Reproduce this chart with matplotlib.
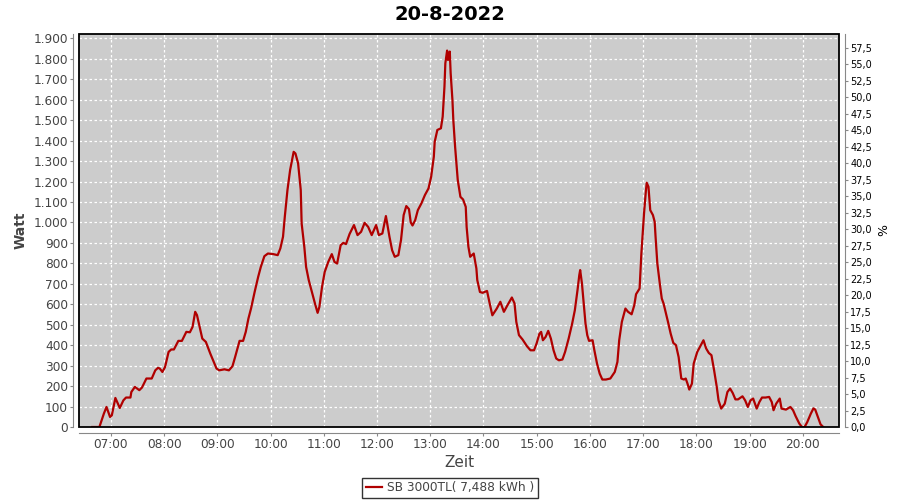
import matplotlib
matplotlib.use("Agg")
import matplotlib.pyplot as plt
from matplotlib.patches import Rectangle
from matplotlib.ticker import FuncFormatter, MultipleLocator

# readings of the day (time of day, power in W)
times = [
    "06:39", "06:47", "06:52", "06:55", "06:59", "07:01", "07:05", "07:10", "07:14", "07:17",
    "07:22", "07:23", "07:27", "07:32", "07:35", "07:40", "07:46", "07:50", "07:53", "07:55",
    "07:58", "08:01", "08:05", "08:08", "08:11", "08:16", "08:20", "08:25", "08:29", "08:32",
    "08:35", "08:37", "08:40", "08:43", "08:47", "08:52", "08:56", "08:59", "09:02", "09:08",
    "09:13", "09:17", "09:20", "09:25", "09:29", "09:32", "09:35", "09:38", "09:42", "09:46",
    "09:49", "09:53", "09:57", "10:03", "10:08", "10:11", "10:14", "10:16", "10:19", "10:22",
    "10:26", "10:28", "10:31", "10:34", "10:35", "10:38", "10:40", "10:43", "10:47", "10:50",
    "10:53", "10:55", "10:58", "11:01", "11:05", "11:09", "11:12", "11:15", "11:19", "11:22",
    "11:25", "11:29", "11:34", "11:38", "11:42", "11:46", "11:50", "11:54", "11:59", "12:02",
    "12:06", "12:10", "12:14", "12:17", "12:20", "12:24", "12:27", "12:30", "12:33", "12:36",
    "12:38", "12:40", "12:43", "12:46", "12:50", "12:54", "12:58", "13:01", "13:04", "13:05",
    "13:08", "13:12", "13:14", "13:16", "13:17", "13:19", "13:20", "13:22", "13:23", "13:25",
    "13:26", "13:28", "13:31", "13:34", "13:37", "13:40", "13:41", "13:43", "13:45", "13:49",
    "13:52", "13:53", "13:56", "13:59", "14:04", "14:07", "14:10", "14:15", "14:19", "14:23",
    "14:27", "14:32", "14:35", "14:37", "14:40", "14:44", "14:49", "14:53", "14:57", "15:00",
    "15:03", "15:05", "15:07", "15:10", "15:13", "15:16", "15:19", "15:22", "15:25", "15:29",
    "15:32", "15:36", "15:40", "15:43", "15:46", "15:48", "15:49", "15:51", "15:53", "15:55",
    "15:57", "15:59", "16:03", "16:05", "16:08", "16:11", "16:14", "16:18", "16:23", "16:28",
    "16:31", "16:33", "16:36", "16:40", "16:43", "16:47", "16:50", "16:52", "16:56", "16:58",
    "17:01", "17:03", "17:04", "17:06", "17:08", "17:11", "17:13", "17:14", "17:16", "17:19",
    "17:21", "17:23", "17:28", "17:31", "17:34", "17:37", "17:40", "17:43", "17:46", "17:48",
    "17:50", "17:52", "17:55", "17:57", "18:01", "18:08", "18:11", "18:14", "18:17", "18:20",
    "18:23", "18:25", "18:28", "18:32", "18:35", "18:38", "18:41", "18:44", "18:47", "18:52",
    "18:55", "18:58", "19:01", "19:04", "19:08", "19:11", "19:14", "19:18", "19:22", "19:25",
    "19:27", "19:30", "19:34", "19:36", "19:41", "19:46", "19:49", "19:52", "19:56", "19:59",
    "20:02", "20:05", "20:09", "20:12", "20:14", "20:17", "20:20", "20:23",
]
watt = [
    0, 0, 65, 98, 49, 57, 142, 93, 130, 144,
    144, 171, 196, 180, 193, 237, 237, 277, 289, 286,
    269, 293, 367, 379, 379, 421, 421, 465, 463, 489,
    563, 547, 489, 432, 416, 359, 318, 286, 277, 282,
    277, 297, 342, 421, 421, 465, 530, 580, 660, 734,
    783, 835, 848, 845, 840, 873, 930, 1027, 1158, 1256,
    1345, 1337, 1289, 1158, 995, 881, 783, 718, 653, 604,
    558, 587, 685, 758, 807, 845, 807, 799, 889, 900,
    894, 943, 987, 938, 954, 998, 978, 938, 987, 938,
    946, 1031, 930, 864, 832, 840, 913, 1036, 1080, 1065,
    1000, 985, 1011, 1060, 1093, 1134, 1166, 1223, 1321, 1394,
    1452, 1460, 1517, 1663, 1778, 1840, 1794, 1835, 1729, 1598,
    1500, 1370, 1207, 1125, 1112, 1076, 978, 881, 832, 848,
    775, 718, 660, 656, 665, 604, 546, 579, 612, 563,
    595, 633, 604, 514, 449, 428, 395, 375, 375, 410,
    455, 465, 424, 440, 470, 432, 375, 335, 326, 330,
    367, 432, 506, 571, 669, 742, 767, 702, 604, 506,
    449, 421, 424, 375, 310, 261, 232, 232, 237, 269,
    318, 424, 514, 579, 563, 551, 595, 649, 677, 848,
    1044, 1150, 1194, 1174, 1060, 1036, 1003, 930, 799, 693,
    628, 604, 514, 457, 411, 400, 342, 237, 232, 237,
    212, 183, 212, 310, 367, 424, 384, 362, 351, 277,
    196, 130, 90, 114, 171, 188, 166, 135, 135, 150,
    130, 98, 130, 139, 90, 122, 144, 144, 147, 122,
    82, 114, 139, 90, 85, 98, 82, 52, 17, 0,
    0, 24, 65, 91, 85, 49, 13, 0,
]

title = "20-8-2022"
legend_label = "SB 3000TL( 7,488 kWh )"
hour_ticks = list(range(7, 21))
watt_max = 1921
percent_max = 59.6

hours = [int(t[:2]) + int(t[3:]) / 60 for t in times]

fig = plt.figure(figsize=(9, 5), dpi=100)
ax = fig.add_axes([79 / 900, 1 - 427 / 500, 760 / 900, 393 / 500])
ax.set_facecolor("#cccccc")

line, = ax.plot(hours, watt, color="#b00000", lw=1.6, zorder=3)

ax.set_xlim(6.40, 20.68)
ax.set_ylim(0, watt_max)
ax.set_xticks(hour_ticks)
ax.xaxis.set_major_formatter(FuncFormatter(lambda v, p: "%02d:00" % round(v)))
ax.yaxis.set_major_locator(MultipleLocator(100))
ax.yaxis.set_major_formatter(FuncFormatter(lambda v, p: f"{int(v):,}".replace(",", ".")))
ax.grid(True, color="white", ls=(0, (2, 2)), lw=0.9)

for s in ["top", "right"]:
    ax.spines[s].set_visible(False)
for s in ["left", "bottom"]:
    ax.spines[s].set_position(("outward", 4))
    ax.spines[s].set_color("#888888")
ax.add_patch(Rectangle((0, 0), 1, 1, transform=ax.transAxes, fill=False,
                       ec="black", lw=1.3, clip_on=False, zorder=4))
ax.tick_params(axis="both", colors="#888888", labelcolor="#444444",
               labelsize=8.7, length=2, width=0.8, pad=2)

ax.set_ylabel("Watt", fontsize=10, fontweight="bold", color="#444444", labelpad=4)
ax.set_xlabel("Zeit", fontsize=11, color="#444444", labelpad=3)

ax2 = ax.twinx()
ax2.set_ylim(0, percent_max)
ax2.yaxis.set_major_locator(MultipleLocator(2.5))
ax2.yaxis.set_major_formatter(FuncFormatter(lambda v, p: f"{v:.1f}".replace(".", ",")))
for s in ["top", "left", "bottom"]:
    ax2.spines[s].set_visible(False)
ax2.spines["right"].set_position(("outward", 4))
ax2.spines["right"].set_color("#888888")
ax2.tick_params(axis="y", colors="#888888", labelcolor="black",
                labelsize=7, length=2, width=0.8, pad=2)
ax2.set_ylabel("%", fontsize=9, color="black", labelpad=4)

fig.text(0.5, 1 - 14 / 500, title, ha="center", va="center",
         fontsize=14, fontweight="bold")

leg = fig.legend([line], [legend_label], loc="center",
                 bbox_to_anchor=(450 / 900, 1 - 488 / 500),
                 frameon=True, fancybox=False, fontsize=8.7,
                 handlelength=1.3, handletextpad=0.4, borderpad=0.3,
                 borderaxespad=0)
leg.get_frame().set_edgecolor("black")
leg.get_frame().set_linewidth(1.0)
for txt in leg.get_texts():
    txt.set_color("#444444")

fig.savefig("out.png", dpi=100)
